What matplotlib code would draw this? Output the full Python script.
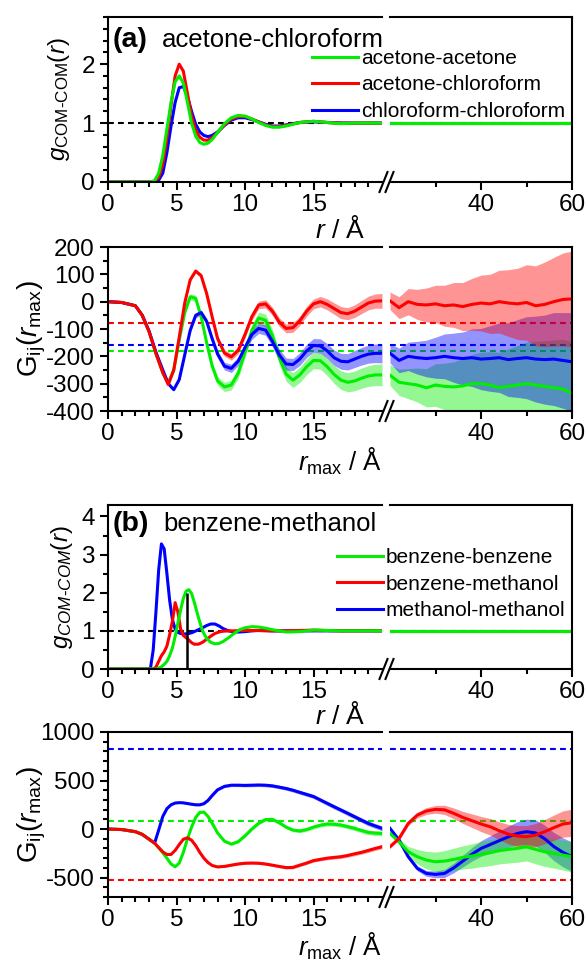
import numpy as np
import matplotlib
matplotlib.use('Agg')
import matplotlib.pyplot as plt
from matplotlib.lines import Line2D
from matplotlib.ticker import FixedLocator, MultipleLocator

plt.rcParams['font.family'] = ['Liberation Sans', 'DejaVu Sans']
plt.rcParams['mathtext.fontset'] = 'custom'
plt.rcParams['mathtext.rm'] = 'Liberation Sans'
plt.rcParams['mathtext.it'] = 'Liberation Sans:italic'
plt.rcParams['mathtext.bf'] = 'Liberation Sans:bold'
plt.rcParams['axes.unicode_minus'] = False

GREEN, RED, BLUE = '#00ee00', '#ff0000', '#0000ff'

# ---------------- (a) acetone-chloroform : RDF ----------------
r_a = [0, 3.0, 3.4, 3.7, 4.0, 4.3, 4.6, 4.9, 5.2, 5.5, 5.8, 6.1, 6.4, 6.7, 7.0, 7.3, 7.6,
       8.0, 8.5, 9.0, 9.5, 10.0, 10.5, 11.0, 11.5, 12.0, 12.5, 13.0,
       14.0, 15.0, 16.0, 17.0, 18.0, 19.0, 20.0]
g_aa = [0, 0, 0.02, 0.15, 0.45, 0.9, 1.35, 1.7, 1.80, 1.68, 1.35, 1.0, 0.78, 0.67, 0.64, 0.66, 0.72,
        0.84, 0.99, 1.09, 1.13, 1.12, 1.07, 1.01, 0.96, 0.93, 0.93, 0.95,
        1.01, 1.03, 1.01, 0.99, 1.0, 1.0, 1.0]
g_ac = [0, 0, 0.01, 0.08, 0.3, 0.75, 1.3, 1.8, 2.0, 1.88, 1.5, 1.12, 0.88, 0.76, 0.71, 0.71, 0.75,
        0.84, 0.97, 1.07, 1.11, 1.11, 1.07, 1.02, 0.97, 0.94, 0.94, 0.96,
        1.01, 1.03, 1.01, 1.0, 1.0, 1.0, 1.0]
g_cc = [0, 0, 0, 0.03, 0.15, 0.5, 0.95, 1.35, 1.6, 1.62, 1.45, 1.2, 0.98, 0.85, 0.79, 0.77, 0.79,
        0.85, 0.96, 1.05, 1.09, 1.09, 1.06, 1.02, 0.98, 0.95, 0.95, 0.97,
        1.01, 1.02, 1.01, 1.0, 1.0, 1.0, 1.0]
r_far = [20, 60]
g_far = [1.0, 1.0]

# ---------------- (a) KB integrals ----------------
r_ga = [0, 1, 2, 2.5, 3, 3.5, 4, 4.4, 4.8, 5.2, 5.6, 6.0, 6.4, 6.8, 7.2, 7.6, 8.0, 8.5, 9.0, 9.5,
        10, 10.5, 11, 11.5, 12, 12.5, 13, 13.5, 14, 14.5, 15, 15.5, 16, 16.5, 17, 17.5, 18, 18.5,
        19, 19.5, 20]
G_aa = [0, -3, -15, -50, -110, -190, -260, -298, -250, -140, -40, 18, 12, -55, -150, -235, -290,
        -312, -305, -262, -185, -105, -60, -68, -125, -205, -265, -287, -268, -238, -215, -216,
        -238, -266, -287, -295, -290, -280, -272, -268, -268]
G_ac = [0, -3, -15, -50, -110, -190, -260, -303, -250, -130, -5, 80, 112, 95, 30, -55, -135,
        -188, -202, -178, -120, -55, -12, -8, -35, -75, -98, -95, -70, -35, -8, 0, -10, -25, -40,
        -44, -35, -20, -5, 2, 3]
G_cc = [0, -3, -15, -50, -108, -185, -250, -300, -322, -285, -195, -105, -50, -40, -72, -135,
        -192, -236, -244, -218, -168, -120, -98, -104, -145, -195, -228, -230, -210, -180, -160,
        -162, -180, -205, -218, -220, -210, -200, -192, -189, -189]
e_aa = [0, 0, 0, 0, 0, 1, 2, 3, 5, 7, 9, 11, 12, 13, 14, 15, 16, 17, 18, 19, 20, 21, 22, 23, 24,
        25, 26, 27, 28, 29, 30, 31, 32, 33, 34, 35, 36, 37, 38, 39, 40]
e_ac = [0, 0, 0, 0, 0, 0, 1, 2, 3, 4, 5, 6, 7, 8, 9, 10, 11, 12, 12, 13, 13, 14, 14, 15, 15, 16,
        16, 17, 17, 18, 18, 19, 20, 21, 22, 22, 23, 24, 25, 26, 27]
e_cc = [0, 0, 0, 0, 0, 1, 2, 3, 4, 6, 7, 8, 9, 10, 11, 12, 13, 14, 15, 16, 17, 18, 18, 19, 20,
        21, 22, 22, 23, 24, 25, 26, 27, 28, 29, 30, 31, 32, 33, 34, 35]
r_ga_far = [20, 22, 24, 26, 28, 30, 32, 34, 36, 38, 40, 42, 44, 46, 48, 50, 52, 54, 56, 58, 60]
G_aa_far = [-269, -295, -300, -305, -315, -305, -310, -312, -308, -300, -300, -305, -315, -310,
            -305, -300, -305, -310, -315, -320, -336]
G_ac_far = [3, -22, 0, -10, -12, -8, -15, -12, -18, -10, -5, -8, 0, -5, -8, -3, -15, -10, 0, 8, 10]
G_cc_far = [-189, -215, -200, -205, -208, -205, -200, -205, -208, -205, -210, -208, -205, -212,
            -208, -205, -210, -212, -210, -215, -220]
e_aa_far = [38, 48, 55, 62, 70, 78, 85, 92, 100, 107, 115, 122, 130, 137, 145, 152, 160, 167,
            175, 182, 190]
e_ac_far = [32, 40, 48, 55, 62, 68, 75, 82, 88, 95, 102, 108, 115, 122, 130, 138, 146, 155, 162,
            170, 175]
e_cc_far = [35, 45, 52, 60, 67, 75, 82, 90, 97, 105, 112, 120, 127, 135, 142, 150, 157, 163,
            170, 175, 180]
Ginf_a = {'aa': -180, 'ac': -78, 'cc': -160}

# ---------------- (b) benzene-methanol : RDF ----------------
r_b = [0, 2.9, 3.1, 3.3, 3.5, 3.7, 3.9, 4.1, 4.3, 4.5, 4.7, 4.9, 5.1, 5.3, 5.5, 5.7, 5.9, 6.1, 6.3,
       6.6, 6.9, 7.2, 7.5, 7.8, 8.1, 8.4, 8.8, 9.2, 9.6, 10.0, 10.5, 11.0, 11.5, 12.0,
       13.0, 14.0, 15.0, 16.0, 17.0, 18.0, 19.0, 20.0]
g_bb = [0, 0, 0, 0, 0, 0.02, 0.06, 0.12, 0.2, 0.35, 0.55, 0.85, 1.2, 1.55, 1.85, 2.04, 2.08, 1.98,
        1.75, 1.35, 1.0, 0.8, 0.7, 0.66, 0.67, 0.72, 0.82, 0.93, 1.03, 1.08, 1.11, 1.10, 1.07,
        1.03, 0.97, 0.98, 1.02, 1.01, 1.0, 1.0, 1.0, 1.0]
g_bm = [0, 0, 0, 0, 0.05, 0.2, 0.35, 0.45, 0.6, 0.9, 1.25, 1.74, 1.5, 1.05, 0.88, 0.82, 0.76,
        0.69, 0.65, 0.65, 0.7, 0.78, 0.86, 0.93, 0.97, 0.99, 1.0, 1.0, 1.01, 1.01, 1.01, 1.01,
        1.0, 1.0, 1.0, 1.01, 1.02, 1.01, 1.0, 1.0, 1.0, 1.0]
g_mm = [0, 0, 0.02, 0.5, 1.5, 2.6, 3.28, 3.15, 2.5, 1.8, 1.3, 1.05, 0.96, 0.93, 0.92, 0.92, 0.93,
        0.95, 0.98, 1.03, 1.08, 1.14, 1.18, 1.18, 1.13, 1.06, 1.0, 0.97, 0.97, 0.98, 1.0, 1.01,
        1.01, 1.0, 1.0, 1.0, 1.0, 1.0, 1.0, 1.0, 1.0, 1.0]
r_cut_b = 5.8
g_cut_b = 2.0

# ---------------- (b) KB integrals ----------------
r_gb = [0, 1, 2, 2.5, 3, 3.4, 3.7, 4.0, 4.3, 4.6, 4.9, 5.2, 5.5, 5.8, 6.1, 6.4, 6.7, 7.0, 7.3, 7.6,
        8.0, 8.5, 9.0, 9.5, 10, 10.5, 11, 11.5, 12, 12.5, 13, 13.5, 14, 14.5, 15, 15.5, 16, 16.5,
        17, 17.5, 18, 18.5, 19, 19.5, 20]
G_bb = [0, -5, -27, -55, -105, -145, -192, -245, -300, -360, -388, -350, -240, -100, 20, 120, 172,
        175, 130, 60, -40, -125, -155, -130, -70, 0, 60, 98, 100, 65, 20, -10, -20, -5, 20, 40,
        52, 50, 41, 25, 7, -15, -35, -42, -45]
G_bm = [0, -5, -27, -55, -105, -145, -190, -235, -262, -262, -220, -160, -105, -90, -115, -170,
        -240, -300, -345, -375, -390, -385, -372, -360, -352, -350, -352, -360, -372, -385, -397,
        -395, -372, -350, -325, -312, -300, -292, -285, -272, -255, -240, -220, -200, -182]
G_mm = [0, -5, -27, -55, -105, -145, -10, 130, 210, 250, 268, 272, 270, 263, 256, 250, 250, 262,
        295, 345, 405, 440, 452, 452, 450, 452, 454, 452, 445, 432, 418, 400, 378, 357, 335, 300,
        265, 230, 196, 162, 127, 92, 58, 32, 7]
e_bb = [0, 0, 0, 0, 0, 0, 2, 3, 4, 5, 6, 7, 8, 9, 10, 10, 11, 11, 12, 12, 13, 13, 14, 14, 15, 15,
        16, 16, 17, 17, 18, 18, 19, 19, 20, 20, 21, 21, 22, 22, 23, 23, 24, 24, 25]
e_bm = [0, 0, 0, 0, 0, 0, 2, 2, 3, 3, 4, 4, 5, 5, 6, 6, 7, 7, 8, 8, 9, 9, 10, 10, 11, 11, 12, 12,
        13, 13, 14, 14, 15, 15, 16, 16, 17, 17, 18, 18, 19, 19, 20, 20, 21]
e_mm = [0, 0, 0, 0, 0, 0, 2, 3, 4, 5, 6, 7, 8, 9, 10, 10, 11, 11, 12, 12, 13, 13, 14, 15, 15, 16,
        16, 17, 17, 18, 18, 19, 19, 20, 20, 21, 21, 22, 22, 23, 23, 24, 24, 25, 25]
r_gb_far = [20, 22, 24, 26, 28, 30, 32, 34, 36, 38, 40, 42, 44, 46, 48, 50, 52, 54, 56, 58, 60]
G_bb_far = [-45, -131, -234, -285, -320, -337, -330, -313, -292, -278, -258, -244, -223, -210,
            -199, -182, -210, -234, -251, -268, -285]
G_bm_far = [-182, -96, 58, 144, 186, 203, 198, 162, 120, 86, 52, 24, -17, -52, -72, -79, -62, -27,
            14, 52, 65]
G_mm_far = [7, -113, -285, -405, -457, -467, -457, -400, -330, -260, -200, -160, -120, -80, -45,
            -27, -40, -100, -180, -240, -285]
e_bb_far = [15, 30, 55, 75, 90, 100, 108, 115, 120, 125, 130, 133, 136, 140, 143, 146, 148, 150,
            152, 155, 158]
e_bm_far = [15, 20, 25, 30, 35, 40, 48, 55, 62, 70, 78, 85, 92, 100, 108, 115, 120, 125, 130, 135,
            140]
e_mm_far = [15, 18, 22, 25, 30, 35, 42, 50, 60, 70, 80, 90, 100, 110, 120, 130, 135, 140, 145,
            150, 150]
Ginf_b = {'bb': 80, 'bm': -520, 'mm': 820}

# ---------------- layout helpers ----------------
W, H = 588, 961
fig = plt.figure(figsize=(W / 100, H / 100), dpi=100)
XL0, XL1, XR0, XR1 = 108, 382, 390, 572
TICK_FS = 17.5


def make_pair(ytop, ybot, ylim, ymaj, ymin):
    h = (ybot - ytop) / H
    b = 1 - ybot / H
    axl = fig.add_axes([XL0 / W, b, (XL1 - XL0) / W, h])
    axr = fig.add_axes([XR0 / W, b, (XR1 - XR0) / W, h])
    axl.spines['right'].set_visible(False)
    axr.spines['left'].set_visible(False)
    for ax in (axl, axr):
        for s in ax.spines.values():
            s.set_linewidth(1.5)
        ax.set_ylim(*ylim)
        ax.tick_params(which='major', direction='out', length=6, width=1.5, labelsize=TICK_FS)
        ax.tick_params(which='minor', direction='out', length=3.5, width=1.5)
        ax.tick_params(axis='x', which='major', pad=2.5)
    axl.set_xlim(0, 20)
    axr.set_xlim(20, 60)
    axl.xaxis.set_major_locator(FixedLocator([0, 5, 10, 15]))
    axl.xaxis.set_minor_locator(FixedLocator(list(range(1, 20))))
    axr.xaxis.set_major_locator(FixedLocator([40, 60]))
    axr.xaxis.set_minor_locator(FixedLocator([30, 50]))
    axl.yaxis.set_major_locator(MultipleLocator(ymaj))
    axl.yaxis.set_minor_locator(MultipleLocator(ymin))
    axr.tick_params(which='both', left=False, labelleft=False)
    # break marks on the bottom axis
    for xc in (383.5, 389.5):
        fig.add_artist(Line2D([(xc - 4) / W, (xc + 4) / W],
                              [1 - (ybot + 10) / H, 1 - (ybot - 10) / H],
                              transform=fig.transFigure, color='k', lw=1.5))
    return axl, axr


def band(ax, r, y, e, c):
    r, y, e = np.asarray(r), np.asarray(y, float), np.asarray(e, float)
    ax.fill_between(r, y - e, y + e, color=c, alpha=0.42, lw=0)
    ax.plot(r, y, color=c, lw=2.2)


def legend(labels, x, ytop):
    h = [Line2D([], [], color=c, lw=2.2) for c in (GREEN, RED, BLUE)]
    fig.legend(h, labels, loc='upper left', bbox_to_anchor=(x / W, 1 - ytop / H),
               frameon=False, fontsize=15, borderpad=0, borderaxespad=0,
               handlelength=2.2, handletextpad=0.15, labelspacing=0.36)


def xlabel(s, ycen, fs=19):
    fig.text(340 / W, 1 - ycen / H, s, fontsize=fs, ha='center', va='center')


# ---------------- panel 1 ----------------
a1l, a1r = make_pair(17, 182, (0, 2.8), 1, 0.2)
for ax in (a1l, a1r):
    ax.axhline(1.0, color='k', lw=1.5, dashes=(2.8, 2.0), zorder=1)
a1l.plot(r_a, g_cc, color=BLUE, lw=2.2)
a1l.plot(r_a, g_ac, color=RED, lw=2.2)
a1l.plot(r_a, g_aa, color=GREEN, lw=2.2)
for c in (BLUE, RED, GREEN):
    a1r.plot(r_far, g_far, color=c, lw=2.2)
a1l.set_ylabel(r'$g_{\mathrm{COM\text{-}COM}}(r)$', fontsize=17.5)
a1l.yaxis.set_label_coords(-0.13, 0.5)
legend(['acetone-acetone', 'acetone-chloroform', 'chloroform-chloroform'], 312, 49)
fig.text(113 / W, 1 - 40 / H, '(a)', fontsize=20.5, fontweight='bold', va='center')
fig.text(162 / W, 1 - 40 / H, 'acetone-chloroform', fontsize=18.5, va='center')
xlabel(r'$r$ / Å', 229)

# ---------------- panel 2 ----------------
a2l, a2r = make_pair(247, 411, (-400, 200), 100, 50)
for ax in (a2l, a2r):
    for k, c in (('aa', GREEN), ('cc', BLUE), ('ac', RED)):
        ax.axhline(Ginf_a[k], color=c, lw=1.5, dashes=(2.8, 2.0), zorder=1)
band(a2l, r_ga, G_aa, e_aa, GREEN)
band(a2l, r_ga, G_cc, e_cc, BLUE)
band(a2l, r_ga, G_ac, e_ac, RED)
band(a2r, r_ga_far, G_aa_far, e_aa_far, GREEN)
band(a2r, r_ga_far, G_cc_far, e_cc_far, BLUE)
band(a2r, r_ga_far, G_ac_far, e_ac_far, RED)
a2l.set_ylabel(r'$\mathrm{G}_{\mathrm{ij}}(r_{\mathrm{max}})$', fontsize=20)
a2l.yaxis.set_label_coords(-0.22, 0.5)
xlabel(r'$r_{\mathrm{max}}$ / Å', 461, 18.5)

# ---------------- panel 3 ----------------
a3l, a3r = make_pair(505, 669, (0, 4.3), 1, 0.5)
for ax in (a3l, a3r):
    ax.axhline(1.0, color='k', lw=1.5, dashes=(2.8, 2.0), zorder=1)
a3l.plot(r_b, g_mm, color=BLUE, lw=2.2)
a3l.plot(r_b, g_bm, color=RED, lw=2.2)
a3l.plot(r_b, g_bb, color=GREEN, lw=2.2)
a3l.vlines(r_cut_b, 0, g_cut_b, color='k', lw=1.8, zorder=5)
for c in (BLUE, RED, GREEN):
    a3r.plot(r_far, g_far, color=c, lw=2.2)
a3l.set_ylabel(r'$g_{COM\text{-}COM}(r)$', fontsize=17.5)
a3l.yaxis.set_label_coords(-0.12, 0.5)
legend(['benzene-benzene', 'benzene-methanol', 'methanol-methanol'], 337, 548)
fig.text(113 / W, 1 - 524 / H, '(b)', fontsize=20.5, fontweight='bold', va='center')
fig.text(163 / W, 1 - 524 / H, 'benzene-methanol', fontsize=18.5, va='center')
xlabel(r'$r$ / Å', 716)

# ---------------- panel 4 ----------------
a4l, a4r = make_pair(732, 897, (-700, 1000), 500, 100)
for ax in (a4l, a4r):
    for k, c in (('bb', GREEN), ('mm', BLUE), ('bm', RED)):
        ax.axhline(Ginf_b[k], color=c, lw=1.5, dashes=(2.8, 2.0), zorder=1)
band(a4l, r_gb, G_mm, e_mm, BLUE)
band(a4l, r_gb, G_bb, e_bb, GREEN)
band(a4l, r_gb, G_bm, e_bm, RED)
band(a4r, r_gb_far, G_mm_far, e_mm_far, BLUE)
band(a4r, r_gb_far, G_bb_far, e_bb_far, GREEN)
band(a4r, r_gb_far, G_bm_far, e_bm_far, RED)
a4l.set_ylabel(r'$\mathrm{G}_{\mathrm{ij}}(r_{\mathrm{max}})$', fontsize=20)
a4l.yaxis.set_label_coords(-0.22, 0.5)
xlabel(r'$r_{\mathrm{max}}$ / Å', 946, 18.5)

fig.savefig('out.png', dpi=100)
